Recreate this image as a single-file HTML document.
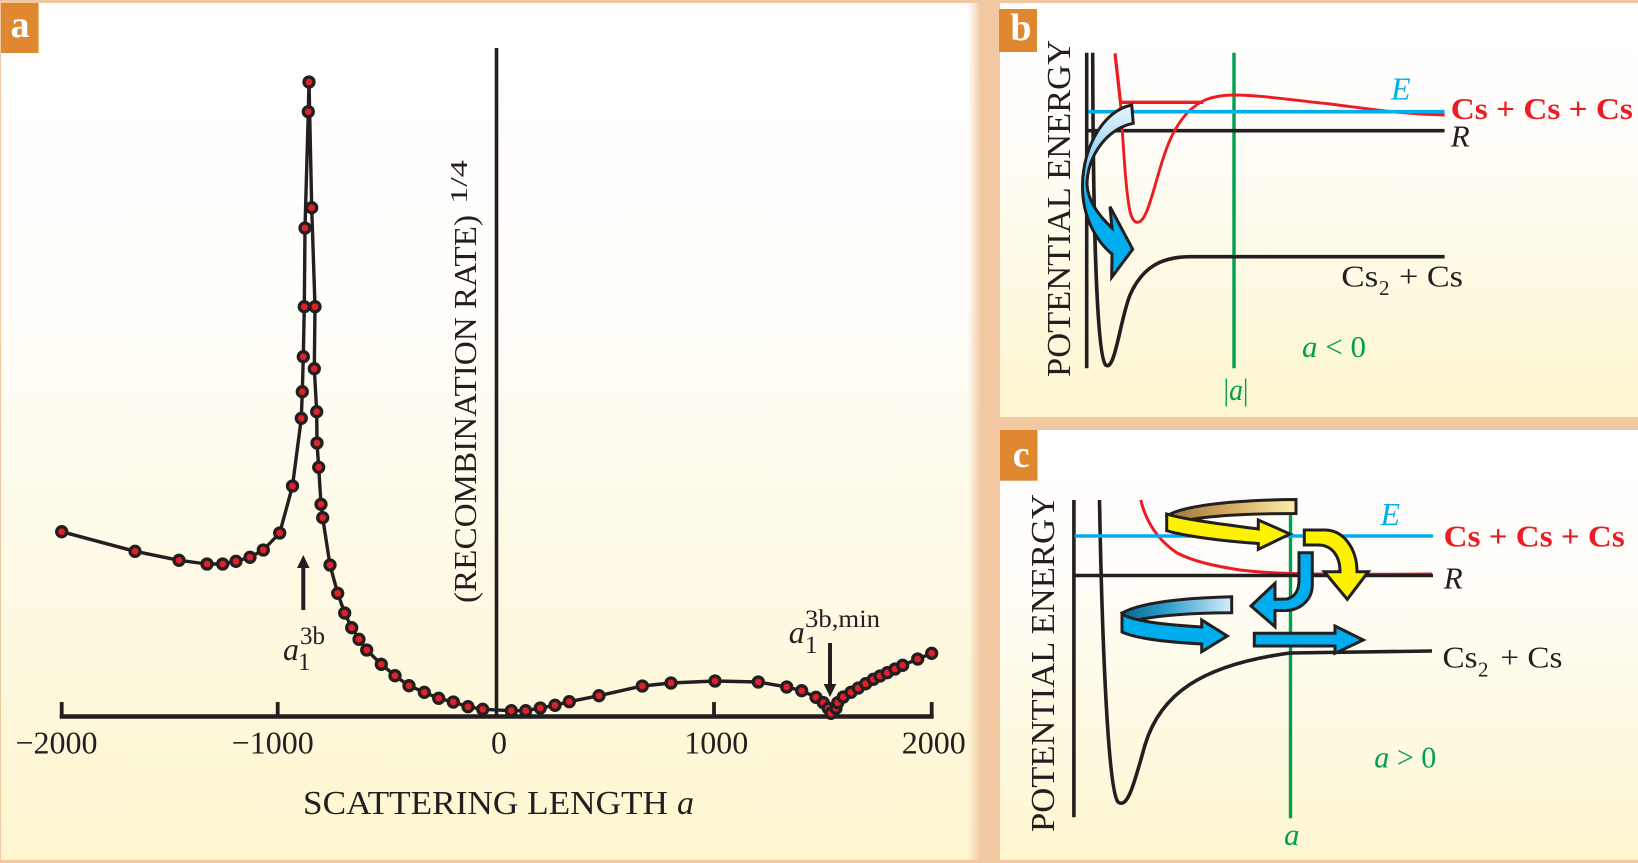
<!DOCTYPE html>
<html><head><meta charset="utf-8"><style>
html,body{margin:0;padding:0;background:#f1c8a2;}
svg{display:block;}
text{font-family:"Liberation Serif",serif;}
</style></head><body>
<svg width="1638" height="863" viewBox="0 0 1638 863" xmlns="http://www.w3.org/2000/svg">
<defs>
<linearGradient id="pa" x1="0" y1="0" x2="0" y2="1">
<stop offset="0" stop-color="#ffffff"/><stop offset="0.35" stop-color="#fffefa"/><stop offset="1" stop-color="#fdf6cf"/>
</linearGradient>
<linearGradient id="pb" x1="0" y1="0" x2="0" y2="1">
<stop offset="0" stop-color="#ffffff"/><stop offset="0.3" stop-color="#fffefa"/><stop offset="1" stop-color="#fdf6cf"/>
</linearGradient>
<linearGradient id="edge" x1="0" y1="0" x2="1" y2="0">
<stop offset="0" stop-color="#f1c8a2" stop-opacity="0"/><stop offset="1" stop-color="#f1c8a2" stop-opacity="1"/>
</linearGradient>
<linearGradient id="gb" x1="0" y1="105" x2="0" y2="280" gradientUnits="userSpaceOnUse">
<stop offset="0" stop-color="#e6f5fd"/><stop offset="0.3" stop-color="#93d5f4"/><stop offset="0.55" stop-color="#00aeef"/><stop offset="1" stop-color="#00aeef"/>
</linearGradient>
<linearGradient id="gy" x1="1166" y1="0" x2="1296" y2="0" gradientUnits="userSpaceOnUse">
<stop offset="0" stop-color="#9c7436"/><stop offset="0.45" stop-color="#d0a45e"/><stop offset="1" stop-color="#fcf0a6"/>
</linearGradient>
<linearGradient id="gbl" x1="1122" y1="0" x2="1232" y2="0" gradientUnits="userSpaceOnUse">
<stop offset="0" stop-color="#076a92"/><stop offset="0.4" stop-color="#2b9dcc"/><stop offset="1" stop-color="#d6eef9"/>
</linearGradient>
</defs>

<!-- backgrounds -->
<rect x="0" y="0" width="1638" height="863" fill="#f1c8a2"/>
<rect x="1" y="3" width="979" height="857" fill="url(#pa)"/>
<rect x="968" y="3" width="13" height="857" fill="url(#edge)"/>
<rect x="1000" y="3" width="638" height="414" fill="url(#pb)"/>
<rect x="1000" y="430" width="638" height="430" fill="url(#pb)"/>

<!-- panel letters -->
<rect x="1" y="3" width="37.6" height="50" fill="#e0882f"/>
<text x="20" y="37" font-size="38" font-weight="bold" fill="#fff" text-anchor="middle">a</text>
<rect x="999" y="9" width="38" height="43" fill="#e0882f"/>
<text x="1021" y="40" font-size="38" font-weight="bold" fill="#fff" text-anchor="middle">b</text>
<rect x="1000" y="430" width="37.5" height="50.7" fill="#e0882f"/>
<text x="1021" y="467" font-size="38" font-weight="bold" fill="#fff" text-anchor="middle">c</text>

<!-- ===== PANEL A ===== -->
<g stroke="#231f20" fill="none">
<line x1="59.7" y1="716.5" x2="933.7" y2="716.5" stroke-width="4.4"/>
<line x1="496.5" y1="48" x2="496.5" y2="718" stroke-width="3.6"/>
<line x1="61.7" y1="702" x2="61.7" y2="716" stroke-width="3.8"/>
<line x1="277.7" y1="702" x2="277.7" y2="716" stroke-width="3.8"/>
<line x1="714" y1="702" x2="714" y2="716" stroke-width="3.8"/>
<line x1="931.7" y1="702" x2="931.7" y2="716" stroke-width="3.8"/>
</g>
<g font-size="32" fill="#231f20" text-anchor="middle">
<text x="56.5" y="753.3">−2000</text>
<text x="272.7" y="753.3">−1000</text>
<text x="499" y="753.3">0</text>
<text x="716.2" y="753.3">1000</text>
<text x="933.8" y="753.3">2000</text>
</g>
<text x="303" y="814" font-size="34" fill="#231f20" textLength="365" lengthAdjust="spacingAndGlyphs">SCATTERING LENGTH</text>
<text x="677" y="814" font-size="34" font-style="italic" fill="#231f20">a</text>
<text transform="translate(476,603) rotate(-90)" font-size="32" fill="#231f20" textLength="388" lengthAdjust="spacingAndGlyphs">(RECOMBINATION RATE)</text>
<text transform="translate(467,204) rotate(-90)" font-size="24" fill="#231f20" textLength="44" lengthAdjust="spacingAndGlyphs">1/4</text>

<!-- annotations -->
<line x1="303.3" y1="610" x2="303.3" y2="566" stroke="#231f20" stroke-width="4"/>
<polygon points="297,568 309.6,568 303.3,555" fill="#231f20"/>
<text x="283" y="660" font-size="32" font-style="italic" fill="#231f20">a</text>
<text x="298" y="670" font-size="25" fill="#231f20">1</text>
<text x="300" y="644" font-size="25" fill="#231f20">3b</text>

<line x1="830" y1="643" x2="830" y2="686" stroke="#231f20" stroke-width="4"/>
<polygon points="823.7,684 836.3,684 830,697" fill="#231f20"/>
<text x="788.7" y="643" font-size="32" font-style="italic" fill="#231f20">a</text>
<text x="805" y="653" font-size="25" fill="#231f20">1</text>
<text x="805" y="627" font-size="25" fill="#231f20" textLength="75" lengthAdjust="spacingAndGlyphs">3b,min</text>

<!-- data -->
<polyline fill="none" stroke="#231f20" stroke-width="3.4" stroke-linejoin="round" points="61.7,531.7 135,551.3 179,560.3 207,564 222.7,564 236,561.3 250,557.3 263.3,550 279.7,533 292.5,486 301.3,418.3 302.3,391.7 303.3,356.7 304.3,306.7 305,228 308.3,111.7 309,82 311.7,207.7 315,306.7 314.3,368.7 316.7,411.7 317,443 318.7,467.3 321,504.3 322.7,517.7 330,565 337.7,593.3 344.7,613 351.7,627.7 359,639.3 366.7,650 381.3,664.3 395,675.7 409,685.7 424.3,692.3 438.7,698.3 453.3,702 468,706.7 482.7,709.3 511.3,710.7 525.7,710.7 540.3,708 555,705.3 569.3,701.7 599,695.7 642.3,686 671,683 715,681 758.3,682 786.7,687 801.7,690.7 816,697.3 823.3,702.7 828.3,708.3 831,713.3 836,708.3 837.7,702.7 843.3,697 851,692.3 858.3,688 865.7,683.7 873.3,679.3 880,676 887.3,672.7 895,669 902.7,665.3 917.7,659 931.7,653.3"/>
<g fill="#e3202a" stroke="#231f20" stroke-width="3.3">
<circle cx="61.7" cy="531.7" r="5"/><circle cx="135" cy="551.3" r="5"/><circle cx="179" cy="560.3" r="5"/><circle cx="207" cy="564" r="5"/><circle cx="222.7" cy="564" r="5"/><circle cx="236" cy="561.3" r="5"/><circle cx="250" cy="557.3" r="5"/><circle cx="263.3" cy="550" r="5"/><circle cx="279.7" cy="533" r="5"/><circle cx="292.5" cy="486" r="5"/><circle cx="301.3" cy="418.3" r="5"/><circle cx="302.3" cy="391.7" r="5"/><circle cx="303.3" cy="356.7" r="5"/><circle cx="304.3" cy="306.7" r="5"/><circle cx="305" cy="228" r="5"/><circle cx="308.3" cy="111.7" r="5"/><circle cx="309" cy="82" r="5"/><circle cx="311.7" cy="207.7" r="5"/><circle cx="315" cy="306.7" r="5"/><circle cx="314.3" cy="368.7" r="5"/><circle cx="316.7" cy="411.7" r="5"/><circle cx="317" cy="443" r="5"/><circle cx="318.7" cy="467.3" r="5"/><circle cx="321" cy="504.3" r="5"/><circle cx="322.7" cy="517.7" r="5"/><circle cx="330" cy="565" r="5"/><circle cx="337.7" cy="593.3" r="5"/><circle cx="344.7" cy="613" r="5"/><circle cx="351.7" cy="627.7" r="5"/><circle cx="359" cy="639.3" r="5"/><circle cx="366.7" cy="650" r="5"/><circle cx="381.3" cy="664.3" r="5"/><circle cx="395" cy="675.7" r="5"/><circle cx="409" cy="685.7" r="5"/><circle cx="424.3" cy="692.3" r="5"/><circle cx="438.7" cy="698.3" r="5"/><circle cx="453.3" cy="702" r="5"/><circle cx="468" cy="706.7" r="5"/><circle cx="482.7" cy="709.3" r="5"/><circle cx="511.3" cy="710.7" r="5"/><circle cx="525.7" cy="710.7" r="5"/><circle cx="540.3" cy="708" r="5"/><circle cx="555" cy="705.3" r="5"/><circle cx="569.3" cy="701.7" r="5"/><circle cx="599" cy="695.7" r="5"/><circle cx="642.3" cy="686" r="5"/><circle cx="671" cy="683" r="5"/><circle cx="715" cy="681" r="5"/><circle cx="758.3" cy="682" r="5"/><circle cx="786.7" cy="687" r="5"/><circle cx="801.7" cy="690.7" r="5"/><circle cx="816" cy="697.3" r="5"/><circle cx="823.3" cy="702.7" r="5"/><circle cx="828.3" cy="708.3" r="5"/><circle cx="831" cy="713.3" r="5"/><circle cx="836" cy="708.3" r="5"/><circle cx="837.7" cy="702.7" r="5"/><circle cx="843.3" cy="697" r="5"/><circle cx="851" cy="692.3" r="5"/><circle cx="858.3" cy="688" r="5"/><circle cx="865.7" cy="683.7" r="5"/><circle cx="873.3" cy="679.3" r="5"/><circle cx="880" cy="676" r="5"/><circle cx="887.3" cy="672.7" r="5"/><circle cx="895" cy="669" r="5"/><circle cx="902.7" cy="665.3" r="5"/><circle cx="917.7" cy="659" r="5"/><circle cx="931.7" cy="653.3" r="5"/>
</g>

<!-- ===== PANEL B ===== -->
<text transform="translate(1070,377) rotate(-90)" font-size="34" fill="#231f20" textLength="337" lengthAdjust="spacingAndGlyphs">POTENTIAL ENERGY</text>
<line x1="1086.7" y1="52.7" x2="1086.7" y2="368.3" stroke="#231f20" stroke-width="3.6"/>
<line x1="1234" y1="52.7" x2="1234" y2="368.3" stroke="#00a04f" stroke-width="3.4"/>
<path d="M1092.7,52.7 C1093,200 1096,355 1105.7,365 C1115,372 1120,320 1130,295 C1142,268 1160,257 1190,256.7 L1444.6,256.7" fill="none" stroke="#231f20" stroke-width="3.6"/>
<line x1="1086.7" y1="130.7" x2="1444.6" y2="130.7" stroke="#231f20" stroke-width="3.6"/>
<polyline fill="none" stroke="#ed1c24" stroke-width="3.3" points="1115,53.3 1120.5,102.3 1203.3,102.3"/>
<path d="M1120.5,102.3 C1123,140 1126,200 1131,215 C1135,226 1141,224 1146,213 C1152,200 1158,172 1166,150 C1175,125 1188,108 1205,100 C1215,96 1225,95 1234,95 C1260,95 1290,100 1330,104 C1370,109 1400,114 1444.6,115" fill="none" stroke="#ed1c24" stroke-width="2.9"/>
<line x1="1088.3" y1="111.7" x2="1444.6" y2="111.7" stroke="#00aeef" stroke-width="3.6"/>
<path d="M1131.7,105 C1105,110 1083,145 1082.5,185 C1082,215 1095,240 1112,254 L1111.7,277.3 L1132.7,249.3 L1110,206.7 L1112,228 C1098,215 1088,200 1087,185 C1087,155 1108,128 1133.3,123.3 Z" fill="url(#gb)" stroke="#231f20" stroke-width="3" stroke-linejoin="miter"/>
<text x="1391" y="99.3" font-size="32" font-style="italic" fill="#00aeef">E</text>
<text x="1450.8" y="119" font-size="31" font-weight="bold" fill="#ed1c24" textLength="182" lengthAdjust="spacingAndGlyphs">Cs + Cs + Cs</text>
<text x="1450.8" y="146.7" font-size="31" font-style="italic" fill="#231f20">R</text>
<text x="1341.3" y="286.7" font-size="31" fill="#231f20" textLength="37" lengthAdjust="spacingAndGlyphs">Cs</text>
<text x="1379" y="295" font-size="21" fill="#231f20">2</text>
<text x="1399" y="286.7" font-size="31" fill="#231f20" textLength="64" lengthAdjust="spacingAndGlyphs">+ Cs</text>
<text x="1302" y="357" font-size="31" fill="#00a04f" textLength="64" lengthAdjust="spacingAndGlyphs"><tspan font-style="italic">a</tspan> &lt; 0</text>
<text x="1223.5" y="400" font-size="31" fill="#00a04f" textLength="25" lengthAdjust="spacingAndGlyphs">|<tspan font-style="italic">a</tspan>|</text>

<!-- ===== PANEL C ===== -->
<text transform="translate(1054,832) rotate(-90)" font-size="34" fill="#231f20" textLength="338" lengthAdjust="spacingAndGlyphs">POTENTIAL ENERGY</text>
<line x1="1073.9" y1="500" x2="1073.9" y2="817.3" stroke="#231f20" stroke-width="3.6"/>
<line x1="1290.5" y1="515" x2="1290.5" y2="818.3" stroke="#00a04f" stroke-width="3.4"/>
<path d="M1099.5,500 C1102,640 1108,790 1118,802 C1128,810 1135,780 1145,745 C1160,695 1200,665 1290,653 L1432,651" fill="none" stroke="#231f20" stroke-width="3.6"/>
<path d="M1140.8,500 C1146,522 1158,540 1177,553 C1195,562 1215,566 1240,570 C1265,573 1290,575 1432,574" fill="none" stroke="#ed1c24" stroke-width="3"/>
<line x1="1073.9" y1="575.5" x2="1433" y2="575.5" stroke="#231f20" stroke-width="3.6"/>
<line x1="1074.7" y1="536" x2="1433" y2="536" stroke="#00aeef" stroke-width="3.6"/>
<text x="1380.5" y="525" font-size="32" font-style="italic" fill="#00aeef">E</text>
<text x="1443.7" y="546.7" font-size="31" font-weight="bold" fill="#ed1c24" textLength="181" lengthAdjust="spacingAndGlyphs">Cs + Cs + Cs</text>
<text x="1443.7" y="588.3" font-size="31" font-style="italic" fill="#231f20">R</text>
<text x="1442.5" y="667.3" font-size="31" fill="#231f20" textLength="35" lengthAdjust="spacingAndGlyphs">Cs</text>
<text x="1478" y="676.7" font-size="21" fill="#231f20">2</text>
<text x="1500.4" y="667.3" font-size="31" fill="#231f20" textLength="62" lengthAdjust="spacingAndGlyphs">+ Cs</text>
<text x="1374.3" y="767.3" font-size="31" fill="#00a04f" textLength="62" lengthAdjust="spacingAndGlyphs"><tspan font-style="italic">a</tspan> &gt; 0</text>
<text x="1284" y="845" font-size="31" font-style="italic" fill="#00a04f">a</text>

<!-- arrows panel c -->
<g stroke="#231f20" stroke-width="3" stroke-linejoin="miter">
<path d="M1166.7,516 C1182,506 1230,500 1296,499.5 L1296,513.5 C1240,513.5 1195,516 1172,524 Z" fill="url(#gy)"/>
<path d="M1166.7,514 C1185,520 1230,525 1258.3,529 L1258.3,520 L1290,534 L1258.3,549.3 L1258.3,543.5 C1220,541 1185,536 1166.7,530.7 Z" fill="#fff200"/>
<path d="M1304.3,530 L1326,530 C1345,531 1357,550 1357,571.7 L1368.3,571.7 L1347.3,599.3 L1324.3,571.7 L1340,571.7 C1340,556 1332,545 1318,545 L1304.3,545 Z" fill="#fff200"/>
<path d="M1299,552.7 L1312.3,552.7 L1312.3,585 C1312.3,600 1300,610.5 1285,610.5 L1275,610.5 L1275,626.7 L1251,606 L1275,583.3 L1275,599.3 L1287,599 C1295,597 1299,590 1299,580 Z" fill="#00aeef"/>
<path d="M1122,613 C1140,603 1180,598 1231.7,596.7 L1231.7,612.7 C1185,613 1150,616 1130,622 Z" fill="url(#gbl)"/>
<path d="M1122,614 C1135,622 1170,625 1201.7,627 L1201.7,620 L1227.3,636 L1201.7,651.7 L1201.7,644 C1165,642 1135,638 1122,632 Z" fill="#00aeef"/>
<path d="M1254.3,633.3 L1335,633.3 L1335,626 L1363.3,640 L1335,653.3 L1335,646 L1254.3,646 Z" fill="#00aeef"/>
</g>
</svg>
</body></html>
